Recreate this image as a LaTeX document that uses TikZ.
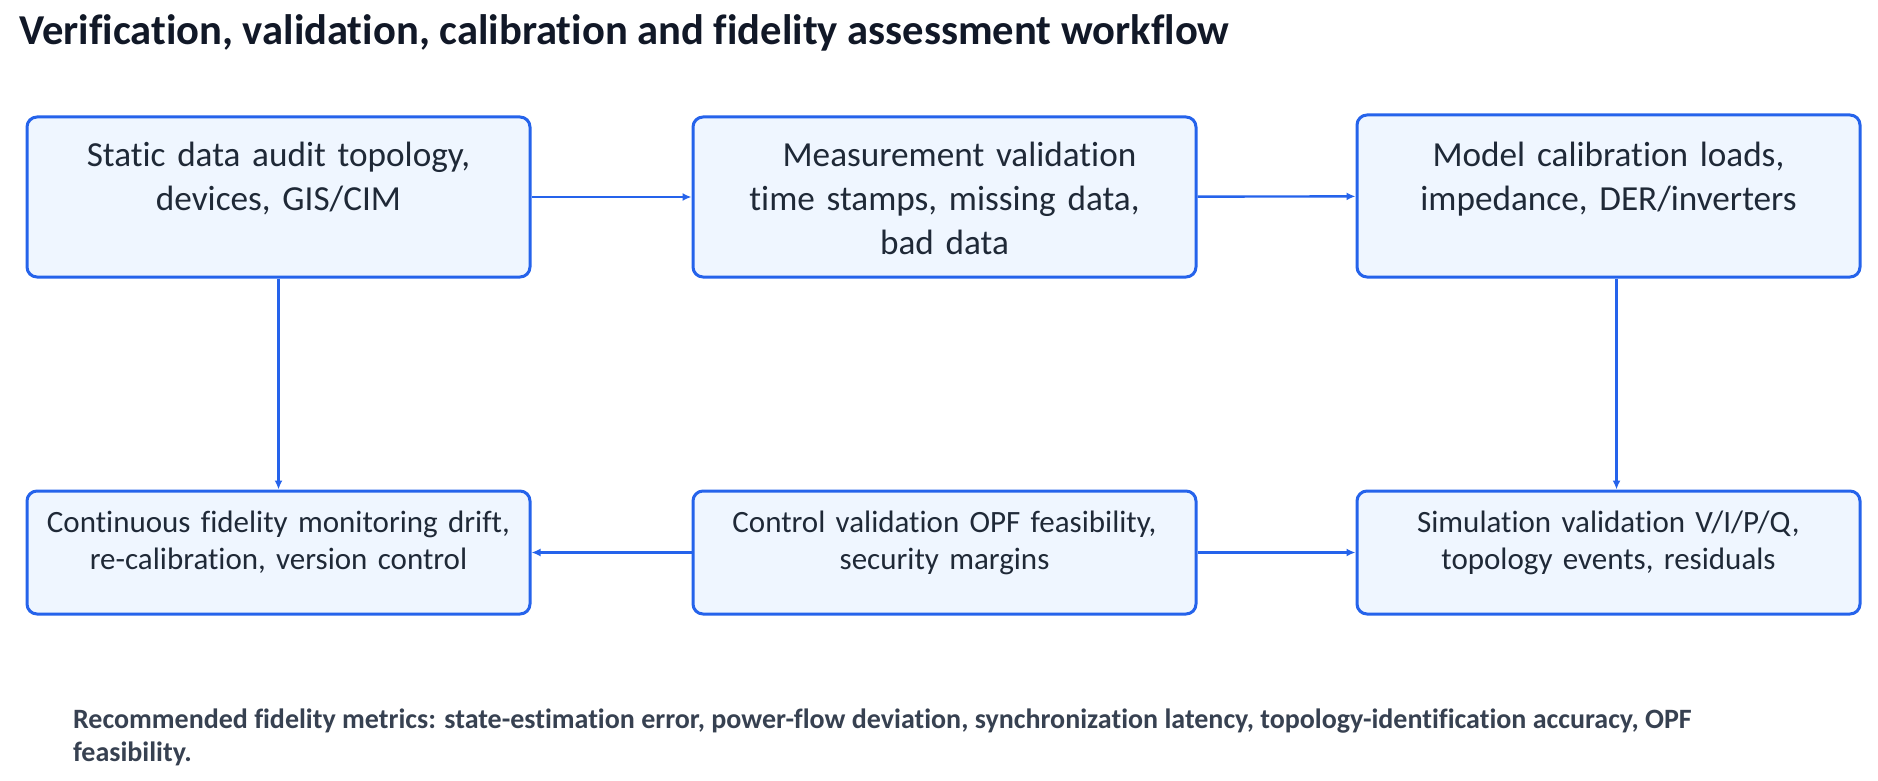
\documentclass[tikz,border=0pt]{standalone}
\usepackage{fontspec}
\setmainfont[Ligatures={TeX,NoCommon}]{Carlito}
\usetikzlibrary{arrows.meta}
\definecolor{flowblue}{HTML}{2563EB}
\definecolor{boxfill}{HTML}{EFF6FF}
\definecolor{boxtext}{HTML}{1F2937}
\definecolor{titletext}{HTML}{111827}
\definecolor{notetext}{HTML}{374151}
\begin{document}
\begin{tikzpicture}[x=0.5pt,y=-0.5pt,
  stage/.style={draw=flowblue,line width=1.5pt,fill=boxfill,rounded corners=5pt,
    inner sep=0pt,text width=251.5pt,align=center,text=boxtext},
  upper/.style={stage,font=\fontsize{17.6}{22}\selectfont,text height=24.5pt,text depth=55.5pt},
  lower/.style={stage,font=\fontsize{15.5}{18.5}\selectfont,text height=20.5pt,text depth=41pt},
  flow/.style={draw=flowblue,line width=1.2pt,-{Latex[length=4.5pt,width=4pt]}}]
\useasboundingbox (0,0) rectangle (1878,781);

\node[anchor=base west,text=titletext,font=\fontsize{21.3}{25}\selectfont\bfseries] (title) at (12,45)
  {Verification, validation, calibration and fidelity assessment workflow};

% upper row
\node[upper] (audit) at (278.5,197) {Static data audit topology,\\ devices, GIS/CIM};
\node[upper] (measure) at (944.5,197) {\hspace*{15pt}Measurement validation\\ time stamps, missing data,\\ bad data};
\node[upper,text height=25.5pt] (calib) at (1608.5,196) {Model calibration loads,\\ impedance, DER/inverters};

% lower row
\node[lower] (monitor) at (278.5,552.5) {Continuous fidelity monitoring drift,\\ re-calibration, version control};
\node[lower] (control) at (944.5,552.5) {Control validation OPF feasibility,\\ security margins};
\node[lower] (simul) at (1608.5,552.5) {Simulation validation V/I/P/Q,\\ topology events, residuals};

\draw[flow] (audit) -- (measure);
\draw[flow] (measure) -- (calib);
\draw[flow] ([xshift=4pt]calib.south) -- ([xshift=4pt]simul.north);
\draw[flow] (control) -- (simul);
\draw[flow] (control) -- (monitor);
\draw[flow] (audit) -- (monitor);

\node[anchor=base west,align=left,text=notetext,font=\fontsize{14}{16.75}\selectfont\bfseries] (note) at (66,761.5)
  {Recommended fidelity metrics: state-estimation error, power-flow deviation, synchronization latency, topology-identification accuracy, OPF\\ feasibility.};
\end{tikzpicture}
\end{document}
